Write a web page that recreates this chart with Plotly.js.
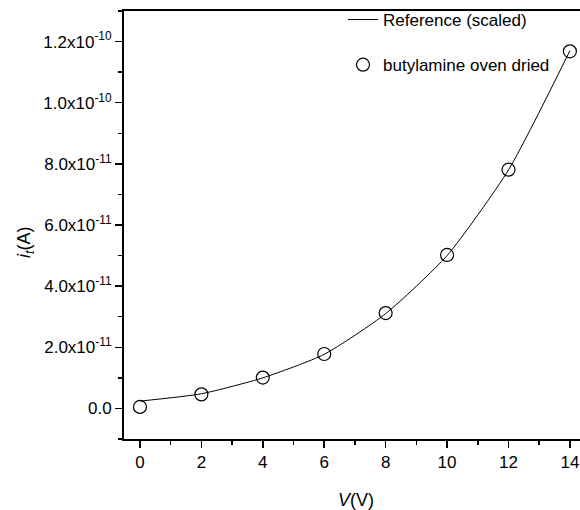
<!DOCTYPE html>
<html>
<head>
<meta charset="utf-8">
<script src="https://cdn.plot.ly/plotly-3.0.1.min.js"></script>
<style>html,body{margin:0;padding:0;background:#fff;overflow:hidden;}</style>
</head>
<body>
<div id="chart" style="width:600px;height:510px;"></div>
<script>
// Data
const voltage = [0, 2, 4, 6, 8, 10, 12, 14];
const measuredCurrent = [0.05e-11, 0.46e-11, 1.01e-11, 1.78e-11, 3.12e-11, 5.02e-11, 7.81e-11, 11.68e-11];
const referenceCurrent = [0.24e-11, 0.48e-11, 1.0e-11, 1.77e-11, 3.1e-11, 5.0e-11, 7.8e-11, 11.7e-11];
const yTickVals = [0, 2e-11, 4e-11, 6e-11, 8e-11, 1.0e-10, 1.2e-10];
const yTickText = ['0.0', '2.0x10<sup>-11</sup>', '4.0x10<sup>-11</sup>', '6.0x10<sup>-11</sup>',
                   '8.0x10<sup>-11</sup>', '1.0x10<sup>-10</sup>', '1.2x10<sup>-10</sup>'];
const xTickVals = [0, 2, 4, 6, 8, 10, 12, 14];
const seriesNames = ['Reference (scaled)', 'butylamine oven dried'];
const xTitle = '<i>V</i>(V)';
const yTitle = '<i>i</i><sub><i>t</i></sub>(A)';

const fam = 'Liberation Sans, Arial, sans-serif';
const font = {family: fam, size: 17, color: '#000'};

const traces = [
  {
    x: voltage, y: referenceCurrent, type: 'scatter', mode: 'lines',
    name: seriesNames[0], legendgroup: 'a',
    line: {color: '#000', width: 1, shape: 'spline', smoothing: 0.6}
  },
  {
    x: voltage, y: measuredCurrent, type: 'scatter', mode: 'markers',
    name: seriesNames[1], legendgroup: 'b',
    marker: {symbol: 'circle-open', size: 13, color: '#000', line: {color: '#000', width: 1.2}}
  }
];

const M = {l: 124, r: 0, t: 11, b: 71};
const W = 600, H = 510;
const plotW = W - M.l - M.r, plotH = H - M.t - M.b;

const layout = {
  width: W, height: H,
  margin: M,
  paper_bgcolor: '#fff', plot_bgcolor: '#fff',
  font: font,
  showlegend: true,
  legend: {
    x: (343 - M.l) / plotW, y: 1 + 9 / plotH, yanchor: 'top',
    bgcolor: 'rgba(0,0,0,0)', borderwidth: 0,
    font: {family: fam, size: 17, color: '#000'},
    traceorder: 'grouped', tracegroupgap: 20
  },
  xaxis: {
    range: [-0.52, 14.98],
    tickvals: xTickVals,
    ticks: 'outside', ticklen: 7, tickwidth: 1.5, tickcolor: '#000',
    minor: {dtick: 1, ticks: 'outside', ticklen: 4, tickwidth: 1.5, tickcolor: '#000', showgrid: false},
    showline: true, linewidth: 2, linecolor: '#000', mirror: true,
    showgrid: false, zeroline: false,
    tickfont: {family: fam, size: 17, color: '#000'}
  },
  yaxis: {
    range: [-1e-11, 1.3e-10],
    tickvals: yTickVals, ticktext: yTickText,
    ticks: 'outside', ticklen: 7, tickwidth: 1.5, tickcolor: '#000',
    minor: {dtick: 1e-11, tick0: 0, ticks: 'outside', ticklen: 4, tickwidth: 1.5, tickcolor: '#000', showgrid: false},
    showline: true, linewidth: 2, linecolor: '#000', mirror: true,
    showgrid: false, zeroline: false,
    tickfont: {family: fam, size: 17, color: '#000'}
  },
  annotations: [
    {text: xTitle, xref: 'paper', yref: 'paper', x: (356 - M.l) / plotW, y: -(500 - (H - M.b)) / plotH,
     xanchor: 'center', yanchor: 'middle', showarrow: false, font: {family: fam, size: 18, color: '#000'}},
    {text: yTitle, xref: 'paper', yref: 'paper', x: -(M.l - 25) / plotW, y: 1 - (242 - M.t) / plotH,
     xanchor: 'center', yanchor: 'middle', textangle: -90, showarrow: false, font: {family: fam, size: 18, color: '#000'}}
  ]
};

Plotly.newPlot('chart', traces, layout, {displayModeBar: false, staticPlot: true});
</script>
</body>
</html>
